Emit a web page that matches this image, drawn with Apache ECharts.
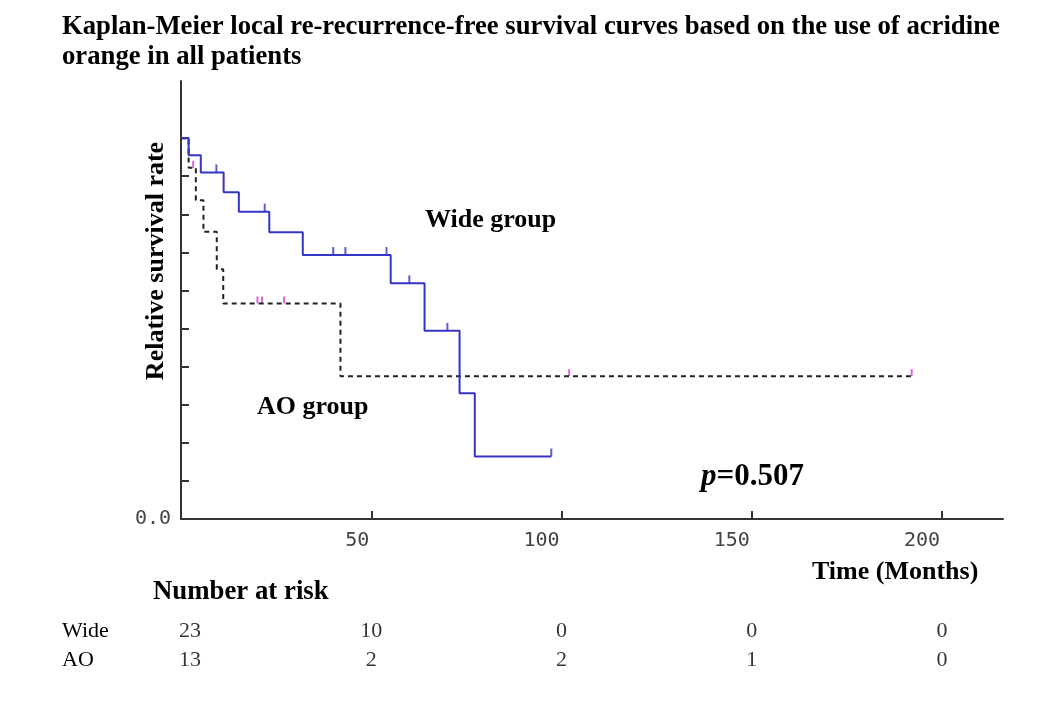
<!DOCTYPE html>
<html>
<head>
<meta charset="utf-8">
<script src="https://cdn.jsdelivr.net/npm/echarts@6/dist/echarts.min.js"></script>
<style>
html,body{margin:0;padding:0;background:#fff;}
#chart{width:1049px;height:705px;}
</style>
</head>
<body>
<div id="chart"></div>
<script>
// ---- data ----
var wideTimes = [0, 2, 5.2, 11.2, 15.2, 23.2, 32, 55.1, 64, 73.2, 77.2, 97.3];
var wideSurv  = [1.0, 0.955, 0.91, 0.858, 0.807, 0.753, 0.693, 0.619, 0.494, 0.33, 0.164, 0.164];
var wideCensor = [9.3, 22, 40, 43.2, 54, 60, 70, 97.3];

var aoTimes = [0, 2, 3.9, 5.9, 9.4, 11.1, 41.9, 192];
var aoSurv  = [1.0, 0.922, 0.837, 0.754, 0.656, 0.566, 0.375, 0.375];
var aoCensor = [3.2, 20.1, 21.3, 27.1, 102, 192];

var riskTimes = [0, 50, 100, 150, 200];
var riskGroups = ['Wide', 'AO'];
var riskWide = [23, 10, 0, 0, 0];
var riskAO = [13, 2, 2, 1, 0];

var xTickLabels = [50, 100, 150, 200];
var yTickValues = [0.1, 0.2, 0.3, 0.4, 0.5, 0.6, 0.7, 0.8, 0.9, 1.0];

// ---- helpers ----
function zip(t, s) { return t.map(function (v, i) { return [v, s[i]]; }); }
function survAt(times, surv, t) {
  var v = surv[0];
  for (var i = 0; i < times.length; i++) { if (times[i] < t || (times[i] === t && i === times.length - 1)) v = surv[i]; }
  return v;
}
function censorData(c, times, surv) { return c.map(function (t) { return [t, survAt(times, surv, t)]; }); }
function riskData(vals, group) {
  return vals.map(function (v, i) {
    var item = { value: [riskTimes[i], group, v] };
    if (i === 0) item.label = { offset: [9, 0] };
    return item;
  });
}

var serif = 'Liberation Serif';
var axisColor = '#333';
var blue = '#3434c6';
var pink = '#d840d8';

var chart = echarts.init(document.getElementById('chart'));
chart.setOption({
  animation: false,
  backgroundColor: '#fff',
  grid: [
    { left: 181, right: 46, top: 81, bottom: 186 },
    { left: 181, right: 46, top: 617, height: 57 }
  ],
  xAxis: [
    {
      type: 'value', min: 0, max: 216, interval: 50, gridIndex: 0,
      axisLine: { show: true, lineStyle: { color: axisColor, width: 2 } },
      axisTick: { show: true, inside: true, length: 8, customValues: xTickLabels, lineStyle: { color: axisColor, width: 2 } },
      axisLabel: { customValues: xTickLabels, align: 'right', margin: 12, padding: [0, 2, 0, 0], fontFamily: 'DejaVu Sans Mono', fontSize: 20, color: '#444' },
      splitLine: { show: false }
    },
    { type: 'value', min: 0, max: 216, gridIndex: 1, show: false }
  ],
  yAxis: [
    {
      type: 'value', min: 0, max: 1.15, interval: 0.1, gridIndex: 0,
      axisLine: { show: true, lineStyle: { color: axisColor, width: 2 } },
      axisTick: { show: true, inside: true, length: 8, customValues: yTickValues, lineStyle: { color: axisColor, width: 2 } },
      axisLabel: { customValues: [0], margin: 10, formatter: function (v) { return v.toFixed(1); }, fontFamily: 'DejaVu Sans Mono', fontSize: 20, color: '#444' },
      splitLine: { show: false }
    },
    {
      type: 'category', data: riskGroups, inverse: true, gridIndex: 1,
      axisLine: { show: false }, axisTick: { show: false }, splitLine: { show: false },
      axisLabel: { interval: 0, hideOverlap: false, align: 'left', margin: 119, fontFamily: serif, fontSize: 22, color: '#000' }
    }
  ],
  series: [
    {
      name: 'AO', type: 'line', step: 'end', xAxisIndex: 0, yAxisIndex: 0,
      data: zip(aoTimes, aoSurv), symbol: 'none',
      lineStyle: { color: '#222', width: 2, type: [5, 4] }
    },
    {
      name: 'Wide', type: 'line', step: 'end', xAxisIndex: 0, yAxisIndex: 0,
      data: zip(wideTimes, wideSurv), symbol: 'none',
      lineStyle: { color: blue, width: 2 }
    },
    {
      name: 'Wide censored', type: 'scatter', xAxisIndex: 0, yAxisIndex: 0,
      data: censorData(wideCensor, wideTimes, wideSurv),
      symbol: 'rect', symbolSize: [2, 8], symbolOffset: [0, -4],
      itemStyle: { color: blue }
    },
    {
      name: 'AO censored', type: 'scatter', xAxisIndex: 0, yAxisIndex: 0,
      data: censorData(aoCensor, aoTimes, aoSurv),
      symbol: 'rect', symbolSize: [2, 7], symbolOffset: [0, -3.5],
      itemStyle: { color: pink }
    },
    {
      name: 'risk Wide', type: 'scatter', xAxisIndex: 1, yAxisIndex: 1,
      data: riskData(riskWide, 'Wide'), symbolSize: 1, itemStyle: { color: 'rgba(0,0,0,0)' },
      label: { show: true, position: 'inside', formatter: function (p) { return p.value[2]; }, fontFamily: serif, fontSize: 22, color: '#000' }
    },
    {
      name: 'risk AO', type: 'scatter', xAxisIndex: 1, yAxisIndex: 1,
      data: riskData(riskAO, 'AO'), symbolSize: 1, itemStyle: { color: 'rgba(0,0,0,0)' },
      label: { show: true, position: 'inside', formatter: function (p) { return p.value[2]; }, fontFamily: serif, fontSize: 22, color: '#000' }
    }
  ],
  graphic: [
    { type: 'text', style: { x: 62, y: 27, text: 'Kaplan-Meier local re-recurrence-free survival curves based on the use of acridine', font: 'bold 26.7px "Liberation Serif"', fill: '#000', textAlign: 'left', textVerticalAlign: 'middle' } },
    { type: 'text', style: { x: 62, y: 57, text: 'orange in all patients', font: 'bold 26.7px "Liberation Serif"', fill: '#000', textAlign: 'left', textVerticalAlign: 'middle' } },
    { type: 'text', x: 156, y: 261, rotation: Math.PI / 2, style: { x: 0, y: 0, text: 'Relative survival rate', font: 'bold 26px "Liberation Serif"', fill: '#000', textAlign: 'center', textVerticalAlign: 'middle' } },
    { type: 'text', style: { x: 425, y: 220, text: 'Wide group', font: 'bold 26px "Liberation Serif"', fill: '#000', textAlign: 'left', textVerticalAlign: 'middle' } },
    { type: 'text', style: { x: 257, y: 407, text: 'AO group', font: 'bold 26px "Liberation Serif"', fill: '#000', textAlign: 'left', textVerticalAlign: 'middle' } },
    { type: 'text', style: { x: 701, y: 477, text: '{i|p}{b|=0.507}', textAlign: 'left', textVerticalAlign: 'middle',
        rich: { i: { font: 'italic bold 31px "Liberation Serif"', fill: '#000' }, b: { font: 'bold 31px "Liberation Serif"', fill: '#000' } } } },
    { type: 'text', style: { x: 812, y: 572, text: 'Time (Months)', font: 'bold 26px "Liberation Serif"', fill: '#000', textAlign: 'left', textVerticalAlign: 'middle' } },
    { type: 'text', style: { x: 153, y: 592, text: 'Number at risk', font: 'bold 26.8px "Liberation Serif"', fill: '#000', textAlign: 'left', textVerticalAlign: 'middle' } }
  ]
});
</script>
</body>
</html>
